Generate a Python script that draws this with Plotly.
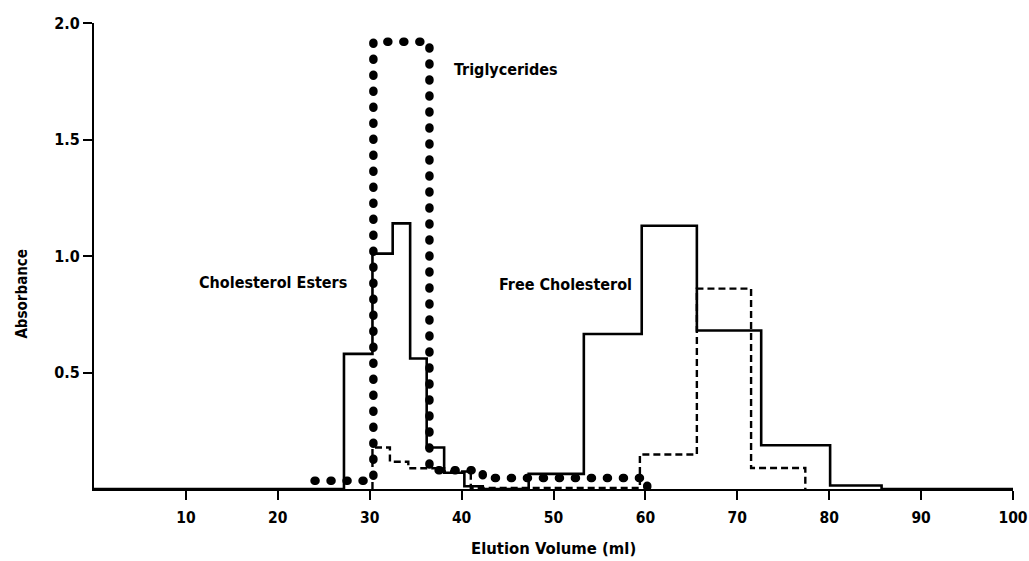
import plotly.graph_objects as go

# Solid line: cholesterol esters + free cholesterol (step edges and levels)
solid_x = [0, 27.2, 30.3, 32.5, 34.4, 36.2, 38.1, 40.3, 42.3, 47.3, 53.3, 59.6, 65.6, 72.6, 80.1, 85.7, 100]
solid_y = [0, 0.58, 1.01, 1.14, 0.56, 0.178, 0.07, 0.012, 0, 0.065, 0.665, 1.13, 0.68, 0.188, 0.015, 0, 0]

# Dashed line
dash_x = [30.3, 30.3, 32.2, 34.2, 38.1, 41.0, 59.4, 65.6, 71.5, 77.4]
dash_y = [0, 0.178, 0.117, 0.089, 0.075, 0.005, 0.148, 0.86, 0.09, 0]

# Dotted line: triglycerides
tri_x = [24.0, 30.4, 36.5, 42.3, 60.2]
tri_y = [0.035, 1.92, 0.08, 0.047, 0]

x_ticks = [10, 20, 30, 40, 50, 60, 70, 80, 90, 100]
y_ticks = [0.5, 1.0, 1.5, 2.0]
y_ticktext = ["0.5", "1.0", "1.5", "2.0"]

labels = ["Triglycerides", "Cholesterol Esters", "Free Cholesterol"]
label_x = [39.0, 11.2, 43.9]
label_y = [1.80, 0.886, 0.877]

FONT = "DejaVu Sans Condensed"

fig = go.Figure()
fig.add_trace(go.Scatter(x=solid_x, y=solid_y, mode="lines", line_shape="hv",
                         line=dict(color="black", width=2.6), showlegend=False, hoverinfo="skip"))
fig.add_trace(go.Scatter(x=dash_x, y=dash_y, mode="lines", line_shape="hv",
                         line=dict(color="black", width=2.4, dash="7px,4px"), showlegend=False, hoverinfo="skip"))
fig.add_trace(go.Scatter(x=tri_x, y=tri_y, mode="lines", line_shape="hv",
                         line=dict(color="black", width=8.5, dash="1px,15px"), showlegend=False, hoverinfo="skip"))

for t, lx, ly in zip(labels, label_x, label_y):
    fig.add_annotation(x=lx, y=ly, xref="x", yref="y", text=t, showarrow=False,
                       xanchor="left", yanchor="middle",
                       font=dict(family=FONT, size=16, color="black", weight="bold"))

fig.add_annotation(x=-0.078, y=0.42, xref="paper", yref="paper", text="Absorbance",
                   showarrow=False, textangle=-90, xanchor="center", yanchor="middle",
                   font=dict(family=FONT, size=15, color="black", weight="bold"))
fig.add_annotation(x=0.5, y=-0.127, xref="paper", yref="paper", text="Elution Volume (ml)",
                   showarrow=False, xanchor="center", yanchor="middle",
                   font=dict(family=FONT, size=16.5, color="black", weight="bold"))

fig.update_layout(
    width=1029, height=561,
    margin=dict(l=94, r=16, t=23, b=72, autoexpand=False),
    paper_bgcolor="white", plot_bgcolor="white",
    xaxis=dict(range=[0, 100], tickvals=x_ticks, showline=True, linecolor="black", linewidth=2,
               ticks="outside", ticklen=9, tickwidth=2, tickcolor="black", showgrid=False, zeroline=False,
               automargin=False, ticklabeloverflow="allow", ticklabelstandoff=4,
               tickfont=dict(family=FONT, size=15.5, color="black", weight="bold")),
    yaxis=dict(range=[0, 2.0], tickvals=y_ticks, ticktext=y_ticktext, showline=True, linecolor="black",
               linewidth=2, ticks="outside", ticklen=9, tickwidth=2, tickcolor="black", showgrid=False,
               zeroline=False, automargin=False, ticklabeloverflow="allow",
               tickfont=dict(family=FONT, size=16, color="black", weight="bold")),
)

post = """
document.body.style.margin = '0';
document.body.style.overflow = 'hidden';
var gd = document.getElementById('{plot_id}');
function rc(){
  var tr = gd.querySelectorAll('.scatterlayer .trace');
  var t = tr[tr.length-1];
  if(t){ t.querySelectorAll('path.js-line').forEach(function(p){ p.style.strokeLinecap='round'; }); }
}
rc();
gd.on('plotly_afterplot', rc);
"""

fig.write_html("out.html", config={"displayModeBar": False}, post_script=post)
